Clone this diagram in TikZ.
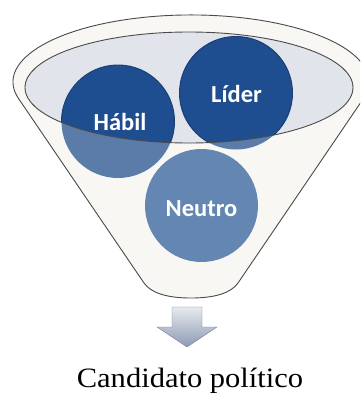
\documentclass[tikz,border=0pt]{standalone}
\usepackage{fontspec}
\setmainfont{Liberation Serif}
\newfontfamily\labelfont{Carlito}
\usetikzlibrary{shadings}
\definecolor{funfill}{HTML}{F8F7F4}
\definecolor{funline}{HTML}{4A4A4A}
\definecolor{mouthfill}{HTML}{E1E5EB}
\definecolor{darkball}{HTML}{1F4E90}
\definecolor{darkrim}{HTML}{183F76}
\definecolor{lightball}{HTML}{5B7CA9}
\definecolor{neutroball}{HTML}{6486B3}
\definecolor{arrowtop}{HTML}{E6EAF0}
\definecolor{arrowbot}{HTML}{8D9AB3}
\tikzset{
  ballstyle/.style={circle, minimum size=113pt, inner sep=0pt},
  balltext/.style={text=white, font=\labelfont\bfseries\fontsize{24.5}{24.5}\selectfont, anchor=base},
  funnelline/.style={draw=funline, line width=0.9pt},
}
\begin{document}
\begin{tikzpicture}[x=1pt, y=-1pt]
\useasboundingbox (0,0) rectangle (360,394);
\clip (0,0) rectangle (360,394);
% funnel body
\path[funnelline, fill=funfill]
  (18.5,98.5) arc[start angle=165.7, end angle=374.3, x radius=178, y radius=67]
  -- (238,283) .. controls (231,293) and (215,298) .. (191,298)
  .. controls (167,298) and (151,293) .. (144,283) -- cycle;
% balls (lighter, seen through the funnel body)
\node[ballstyle, fill=lightball] (habilL) at (118,121.5) {};
\node[ballstyle, fill=lightball] (liderL) at (236,93) {};
\node[ballstyle, fill=neutroball] (neutro) at (201.5,205.5) {};
% mouth of the funnel
\fill[mouthfill] (189,87.5) ellipse[x radius=164, y radius=55.5];
\begin{scope}
  \clip (189,87.5) ellipse[x radius=164, y radius=55.5];
  \node[ballstyle, fill=darkball, draw=darkrim, line width=1pt] (habil) at (118,121.5) {};
  \node[ballstyle, fill=darkball, draw=darkrim, line width=1pt] (lider) at (236,93) {};
\end{scope}
\draw[funnelline] (189,87.5) ellipse[x radius=164, y radius=55.5];
% labels
\node[balltext] (tHabil) at (120,130) {Hábil};
\node[balltext] (tLider) at (236.5,102) {Líder};
\node[balltext] (tNeutro) at (201.5,216) {Neutro};
% arrow
\path[top color=arrowtop, bottom color=arrowbot, draw=arrowbot!80!black, line width=0.3pt]
  (172,307) -- (202,307) -- (202,327) -- (217,327) -- (187,347) -- (157,327) -- (172,327) -- cycle;
% caption
\node[anchor=base, xscale=1.09, inner sep=0pt] (caption) at (190,387)
  {\fontsize{28}{28}\selectfont Candidato político};
\end{tikzpicture}
\end{document}
